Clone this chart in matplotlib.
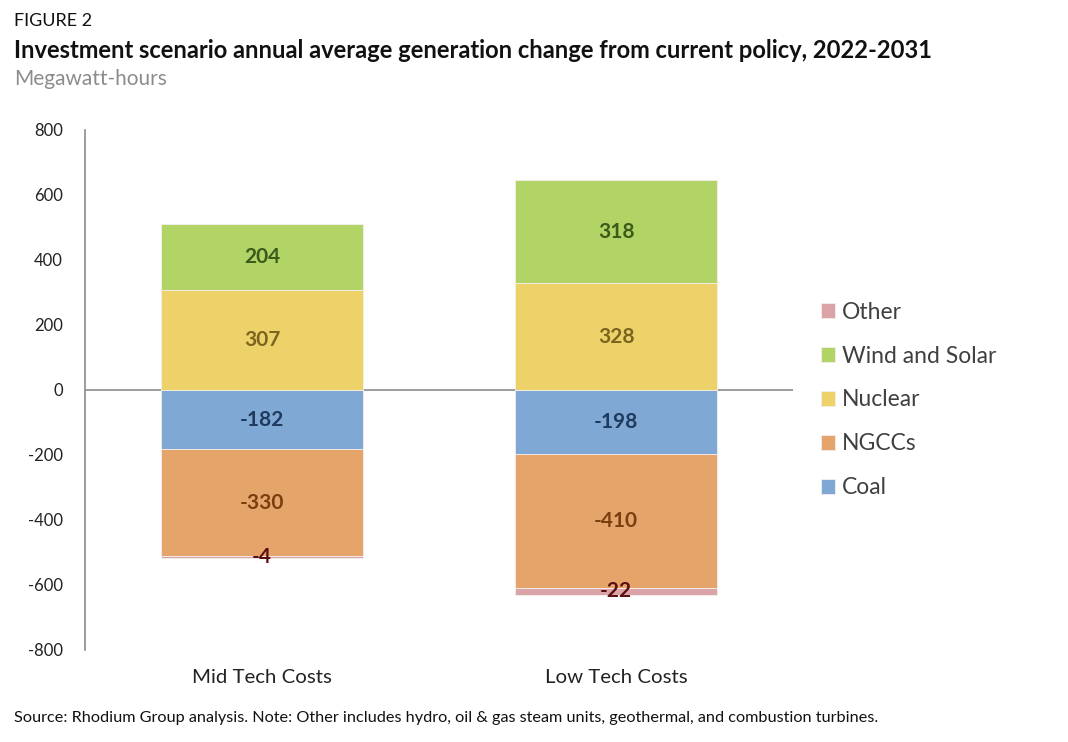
import matplotlib
matplotlib.use("Agg")
import matplotlib.pyplot as plt
import numpy as np

plt.rcParams['font.family'] = ['Lato', 'DejaVu Sans']
plt.rcParams['axes.unicode_minus'] = False

categories = ["Mid Tech Costs", "Low Tech Costs"]
coal = [-182, -198]
ngcc = [-330, -410]
other = [-4, -22]
nuclear = [307, 328]
wind_solar = [204, 318]

series = [
    ("Coal", coal, "#7FA9D4", "#1F3A5F"),
    ("NGCCs", ngcc, "#E5A46A", "#7A3E10"),
    ("Other", other, "#D9A3A8", "#5A1010"),
    ("Nuclear", nuclear, "#EDD26A", "#7A6420"),
    ("Wind and Solar", wind_solar, "#B2D366", "#3E5A1A"),
]

fig = plt.figure(figsize=(10.68, 7.42), dpi=100)
ax = fig.add_axes([0.0796, 0.124, 0.663, 0.701])
x = np.arange(len(categories))
width = 0.57
pos_base = np.zeros(len(categories))
neg_base = np.zeros(len(categories))
handles = {}
for name, vals, color, tcolor in series:
    vals = np.array(vals, dtype=float)
    bottoms = np.where(vals >= 0, pos_base, neg_base)
    bars = ax.bar(x, vals, width, bottom=bottoms, color=color,
                  edgecolor="#F4EEEE", linewidth=0.6, label=name)
    handles[name] = bars
    for xi, v, b in zip(x, vals, bottoms):
        ax.text(xi, b + v / 2, f"{int(v)}", ha="center", va="center",
                fontsize=15, fontweight="bold", color=tcolor)
    pos_base = np.where(vals >= 0, pos_base + vals, pos_base)
    neg_base = np.where(vals < 0, neg_base + vals, neg_base)

ax.set_xlim(-0.5, 1.5)
ax.set_ylim(-800, 800)
ax.set_yticks(np.arange(-800, 801, 200))
ax.tick_params(axis='y', length=0, labelsize=12, colors="#222222", pad=16)
ax.tick_params(axis='x', length=0, labelsize=14.7, colors="#222222", pad=14)
ax.set_xticks(x)
ax.set_xticklabels(categories)
for s in ["top", "right", "bottom"]:
    ax.spines[s].set_visible(False)
ax.spines["left"].set_color("#8C8C8C")
ax.spines["left"].set_linewidth(1.2)
ax.axhline(0, color="#8C8C8C", linewidth=1.2, zorder=0.5)

order = ["Other", "Wind and Solar", "Nuclear", "NGCCs", "Coal"]
leg = fig.legend([handles[n] for n in order], order, loc="center left",
                 bbox_to_anchor=(0.749, 0.461), frameon=False, fontsize=16.5,
                 handlelength=0.65, handleheight=0.65, handletextpad=0.3,
                 labelspacing=1.0, labelcolor="#404040")

fig.text(0.013, 0.972, "FIGURE 2", fontsize=13, color="#111111", va="center")
fig.text(0.013, 0.932, "Investment scenario annual average generation change from current policy, 2022-2031",
         fontsize=17.1, fontweight="bold", color="#111111", va="center")
fig.text(0.013, 0.893, "Megawatt-hours", fontsize=15, color="#8C8C8C", va="center")
fig.text(0.013, 0.032, "Source: Rhodium Group analysis. Note: Other includes hydro, oil & gas steam units, geothermal, and combustion turbines.",
         fontsize=11.7, color="#111111", va="center")

fig.savefig("out.png", dpi=100)
